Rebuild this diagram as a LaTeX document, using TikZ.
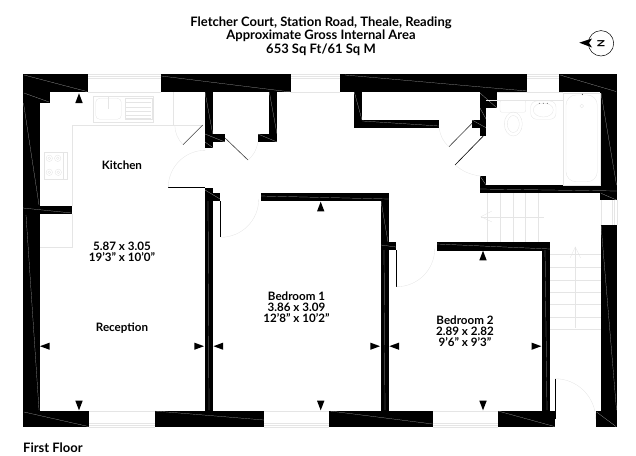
\documentclass[tikz,border=0pt]{standalone}
\usepackage{fontspec}
\setmainfont{Lato}
\usetikzlibrary{positioning}

\begin{document}
\begin{tikzpicture}[x=1pt, y=-1pt, wall/.style={fill=black},
					seam/.style={draw=gray!60, line width=0.2pt},
					faint/.style={draw=black!10, line width=0.35pt},
					leaf/.style={draw=black!75, line width=0.6pt},
					tag/.style={font=\bfseries\fontsize{11.6}{11}\selectfont, inner sep=0pt, align=center, text=black},
					head/.style={font=\bfseries\fontsize{13}{13.4}\selectfont, inner sep=0pt, align=center, text=black},
					mark up/.style={fill=black}]

    \useasboundingbox (0,0) rectangle (636,455);

    % walls
    \foreach \xa/\ya/\xb/\yb in {23/74.3/88/92.3, 161.3/74.3/291.3/92.3, 340.3/74.3/527/92.3, 559.3/74.3/616.7/92.3,
    							 23/92/50/102.7, 23/92/39.5/411, 23/206/71.7/214.3,
    							 23/411/89.3/427.3, 154.7/411/264/427.3, 329.3/411/432.7/427.3, 498/411/555/427.3, 595.7/411/616.7/427.3,
    							 205/92/212.7/147.5, 205/134/225/142.3, 269.3/92/277.3/142.3, 257.7/134/277.3/142.3,
    							 205/187.5/212.7/411, 205/193.3/220/201, 260.7/193.3/388.7/201.3, 380.7/201/388.7/411, 380.7/242.3/396/250,
    							 436.7/242.3/550/250.7, 542/250/550/411,
    							 354.3/92/362.3/128.3, 354.3/119.7/439.3/128.3,
    							 480/92/497.3/108.3, 480/108/486.3/135.7, 472/119.7/486.3/127.7, 480/176/486.3/185,
    							 480/185/616.7/193.3, 600.4/92/616.7/200, 600.7/224.7/616.7/411}
    	\fill[wall] (\xa,\ya) rectangle (\xb,\yb);

    % seams in the walls
    \foreach \xa/\ya/\xb/\yb in {24/75/87/91.5, 161.3/76/291/92, 345/75/527/91, 560/75/616/91.5,
    							 24/93/49/102, 23.5/103/39/205, 23/208/71.7/213, 26/215/39/410,
    							 24/412/88.5/426.5, 155/411/264/420, 330/411/432.7/424, 498/411/554.5/426.5, 596.5/412/616/426.5,
    							 205/92/212.7/134, 205/134/225/142, 205/142/212.7/147.5, 269.3/92/277/134, 258/134/277/142,
    							 208/201/209/410, 205/190/220/199, 261/196/388.7/199, 381/201/388/242, 384/250/385/410, 381/245/396/247,
    							 437/244/550/249, 545/250/547/410,
    							 354.3/92/362/120, 362.3/121/439.3/126, 480/93/497/108, 480/108/486/119, 472/120/486/127.7,
    							 480/176/486/185, 480/189/616.7/191, 601/93/616.5/185, 601/193.3/616.5/200, 601/224.7/616.5/410}
    	\draw[seam] (\xa,\ya) -- (\xb,\yb);

    % windows
    \foreach \xa/\xb in {88/161.3, 291.3/340.3, 527/559.3}
    	\foreach \yy in {74.3, 76.2, 78, 92.3}
    		\draw[faint] (\xa,\yy) -- (\xb,\yy);
    \foreach \xa/\xb in {89.3/154.7, 264/329.3, 432.7/498}
    	\foreach \yy in {411, 423.5, 425.3, 427.3}
    		\draw[faint] (\xa,\yy) -- (\xb,\yy);
    \foreach \xx in {600.7, 612, 614, 616.7}
    	\draw[faint] (\xx,200) -- (\xx,224.7);

    % worktop
    \draw[faint] (71.7,206) -- (71.7,124.7) -- (203,124.7);
    \draw[faint] (71.7,214.3) -- (71.7,246.7) -- (39.5,246.7);
    \draw[faint] (172.7,92.3) -- (172.7,124.7);

    % doors
    \draw[leaf] (202.7,125) -- (183,144.7);
    \draw[faint] (183,144.7) arc[start angle=135, end angle=180, radius=28];
    \draw[leaf] (225,138) -- (248,160);
    \draw[faint] (248,160) to[bend right=20] (257.7,142.3);
    \draw[black, line width=0.6pt] (168.3,187.3) -- (205,187.3);
    \draw[faint] (168.3,187.3) arc[start angle=180, end angle=270, radius=37];
    \draw[black, line width=0.6pt] (220.7,201) -- (220.7,237.3);
    \draw[faint] (220.7,237.3) arc[start angle=90, end angle=0, radius=38];
    \draw[black, line width=0.6pt] (396.7,250) -- (396.7,286.7);
    \draw[faint] (396.7,286.7) arc[start angle=90, end angle=0, radius=38];
    \draw[black, line width=0.6pt] (555,378.7) -- (555,419);
    \draw[faint] (555,378.7) arc[start angle=270, end angle=360, radius=40.7];
    \draw[leaf] (472,123.3) -- (449,146.7);
    \draw[faint] (449,146.7) to[bend left=20] (439.3,128.3);
    \draw[black, line width=0.6pt] (483.3,136) -- (455,165);
    \draw[faint] (455,165) to[bend right=15] (480,176);

    % stairs
    \foreach \xx in {487.3, 500.3, 512.7, 525.3, 537.7}
    	\draw[faint] (\xx,193.3) -- (\xx,242.3);
    \foreach \yy in {254.3, 267, 279.7, 292, 304, 316.7, 329}
    	\draw[faint] (550,\yy) -- (600.7,\yy);
    \draw[faint] (544,216.7) -- (481,216.7);
    \draw[faint] (492,211) -- (481,216.7) -- (492,222);
    \draw[faint] (575.3,328) -- (575.3,247);
    \draw[faint] (570,258) -- (575.3,247) -- (580.6,258);

    % kitchen fittings
    \draw[faint] (93.3,95.7) rectangle (153.3,121.7);
    \draw[faint, rounded corners=4pt] (95.7,98.3) rectangle (121.3,119.3);
    \draw[faint, line width=1pt] (108.7,96.7) -- (108.7,109);
    \draw[faint] (125.3,98.3) rectangle (151.7,119.3);
    \foreach \yy in {102.3, 106.7, 111, 115.3, 118.3}
    	\draw[faint] (126,\yy) -- (151,\yy);
    \draw[faint] (44.3,152.3) rectangle (66.7,179.3);
    \draw[faint] (63.3,152.3) -- (63.3,179.3);
    \foreach \xx/\yy in {49.3/158.3, 57.7/158.3, 49.3/172.3, 58.3/172.3} {
    	\draw[faint] (\xx,\yy) circle (3.2);
    	\draw[faint] (\xx,\yy) circle (1.4);
    }

    % bathroom fittings
    \draw[faint] (486.3,100.3) -- (562.7,100.3);
    \draw[faint] (497.3,92.3) -- (562.7,92.3);
    \draw[faint, rounded corners=2pt] (500,100.3) rectangle (525.7,112.3);
    \draw[faint] (513.3,124) ellipse (9 and 12);
    \draw[faint] (513.3,124) ellipse (6 and 8.5);
    \draw[faint, rounded corners=6pt] (530.7,101) rectangle (556,119.3);
    \draw[faint] (543.3,110) ellipse (10 and 7);
    \fill (539.3,103.3) circle (0.4) (543.3,103.3) circle (0.4) (547.3,103.3) circle (0.4);
    \draw[faint] (562.7,92.7) rectangle (600.3,185);
    \draw[faint, rounded corners=10pt] (566,95) rectangle (597.3,181.7);
    \draw[faint] (581.7,106) circle (1.8);
    \fill (582.3,94.3) circle (0.5);

    % measuring marks
    \foreach \xx/\yy in {79/93.3, 320.7/201.7, 483/250.7}
    	\fill[mark up] (\xx,\yy) -- (\xx+3.7,\yy+9.7) -- (\xx-3.7,\yy+9.7) -- cycle;
    \foreach \xx in {79, 320.7, 483}
    	\fill[mark up] (\xx,410.3) -- (\xx+3.7,400.7) -- (\xx-3.7,400.7) -- cycle;
    \foreach \xx in {204, 380, 541.3}
    	\fill[mark up] (\xx,346.2) -- (\xx-9.7,342.6) -- (\xx-9.7,349.8) -- cycle;
    \foreach \xx in {40, 213.5, 389.3}
    	\fill[mark up] (\xx,346.2) -- (\xx+9.7,342.6) -- (\xx+9.7,349.8) -- cycle;

    % north mark
    \node[circle, draw, line width=0.5pt, minimum size=25.4pt, inner sep=0pt, font=\bfseries\fontsize{10}{10}\selectfont](north) at (601,43.3){\rotatebox{90}{N}};
    \fill (579.3,42.7) -- (592,38.5) -- (589,43) -- (592,47.5) -- cycle;

    % labels
    \node[head](title) at (321,36){Fletcher Court, Station Road, Theale, Reading\\Approximate Gross Internal Area\\653 Sq Ft/61 Sq M};
    \node[tag](kitchen) at (122,165){Kitchen};
    \node[tag](size) at (122,251.5){5.87 x 3.05\\19'3" x 10'0"};
    \node[tag](reception) at (122,328){Reception};
    \node[tag](bedone) at (296.5,307){Bedroom 1\\3.86 x 3.09\\12'8" x 10'2"};
    \node[tag](bedtwo) at (465,331){Bedroom 2\\2.89 x 2.82\\9'6" x 9'3"};
    \node[head, anchor=west](floor) at (23,448){First Floor};
\end{tikzpicture}
\end{document}
